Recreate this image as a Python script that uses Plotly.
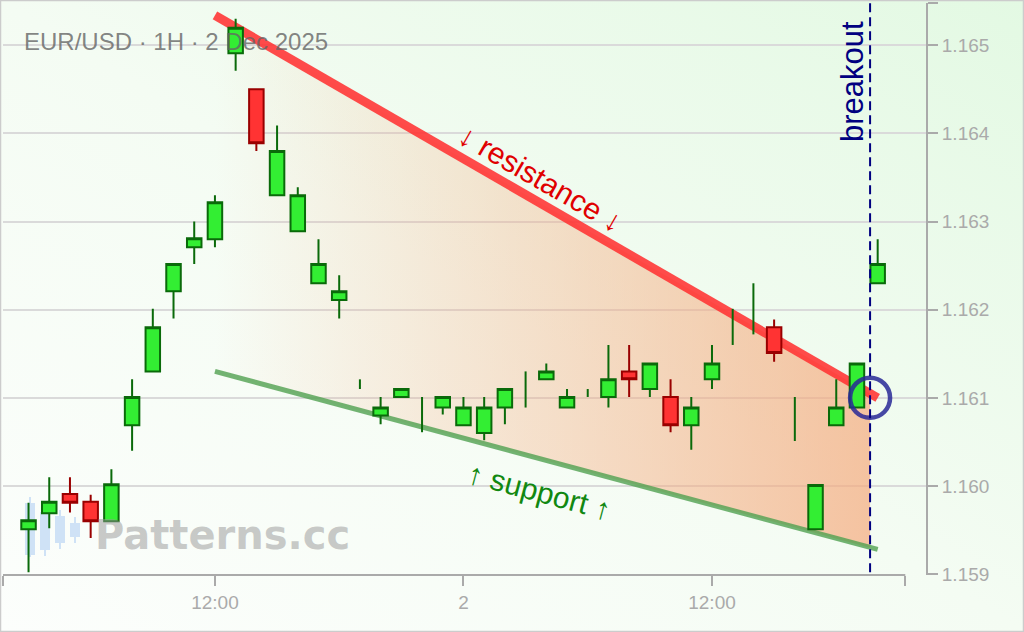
import base64
import pandas as pd
import plotly.graph_objects as go

# hourly candles, 1 Dec 03:00 -> 2 Dec 20:00
times = pd.date_range('2025-12-01 03:00', periods=42, freq='h')
open_ = [1.15951, 1.15969, 1.15991, 1.15982, 1.15960, 1.16069, 1.16130, 1.16221, 1.16271, 1.16280,
         1.16491, 1.16450, 1.16330, 1.16289, 1.16230, 1.16211, 1.16115, 1.16080, 1.16101, 1.16100,
         1.16089, 1.16069, 1.16060, 1.16089, 1.16100, 1.16121, 1.16089, 1.16105, 1.16101, 1.16130,
         1.16110, 1.16101, 1.16069, 1.16121, 1.16180, 1.16200, 1.16180, 1.16080, 1.15951, 1.16069,
         1.16089, 1.16230]
high = [1.15981, 1.16010, 1.16010, 1.15990, 1.16019, 1.16121, 1.16201, 1.16252, 1.16300, 1.16330,
        1.16530, 1.16450, 1.16409, 1.16339, 1.16280, 1.16239, 1.16121, 1.16101, 1.16110, 1.16101,
        1.16101, 1.16101, 1.16101, 1.16110, 1.16130, 1.16139, 1.16110, 1.16110, 1.16160, 1.16160,
        1.16139, 1.16121, 1.16101, 1.16160, 1.16201, 1.16230, 1.16189, 1.16101, 1.16001, 1.16121,
        1.16139, 1.16280]
low = [1.15902, 1.15952, 1.15970, 1.15941, 1.15959, 1.16040, 1.16130, 1.16190, 1.16252, 1.16271,
       1.16471, 1.16380, 1.16330, 1.16289, 1.16230, 1.16190, 1.16110, 1.16070, 1.16101, 1.16061,
       1.16081, 1.16069, 1.16052, 1.16070, 1.16089, 1.16121, 1.16089, 1.16101, 1.16089, 1.16101,
       1.16101, 1.16061, 1.16041, 1.16110, 1.16160, 1.16172, 1.16141, 1.16051, 1.15951, 1.16069,
       1.16089, 1.16230]
close = [1.15961, 1.15982, 1.15981, 1.15960, 1.16002, 1.16101, 1.16180, 1.16252, 1.16281, 1.16322,
         1.16520, 1.16389, 1.16380, 1.16330, 1.16252, 1.16221, 1.16115, 1.16089, 1.16110, 1.16100,
         1.16101, 1.16089, 1.16089, 1.16110, 1.16100, 1.16130, 1.16101, 1.16105, 1.16121, 1.16121,
         1.16139, 1.16069, 1.16089, 1.16139, 1.16180, 1.16200, 1.16151, 1.16080, 1.16001, 1.16089,
         1.16139, 1.16252]

# pattern lines
line_x = ['2025-12-01 12:00', '2025-12-02 20:00']
resistance_y = [1.16534, 1.16100]
support_y = [1.16130, 1.15928]
breakout_x = '2025-12-02 19:38'
breakout_y = 1.16100
fill_x = ['2025-12-01 12:00', breakout_x, breakout_x, '2025-12-01 12:00']
fill_y = [1.16534, 1.16105, 1.15930, 1.16130]

x_range = ['2025-12-01 01:46', '2025-12-02 22:20']
x_line_end = '2025-12-02 21:20'
y_range = [1.15899, 1.16548]
y_ticks = [1.159, 1.160, 1.161, 1.162, 1.163, 1.164, 1.165]
x_ticks = ['2025-12-01 12:00', '2025-12-02 00:00', '2025-12-02 12:00']
x_tick_text = ['12:00', '2', '12:00']

W, H = 1024, 632
ML, MR, MT, MB = 3, 98, 3, 57
PW, PH = W - ML - MR, H - MT - MB

def px(x):
    return (x - ML) / PW

def py(y):
    return (H - MB - y) / PH

doji = [o == c for o, c in zip(open_, close)]
body = [not d for d in doji]

def pick(arr, mask):
    return [a for a, m in zip(arr, mask) if m]

fig = go.Figure()

# pattern area and lines on the base axes
fig.add_trace(go.Scatter(
    x=fill_x, y=fill_y, mode='lines', fill='toself', line=dict(width=0),
    fillgradient=dict(type='horizontal',
                      colorscale=[[0, 'rgba(245,170,125,0)'], [1, 'rgba(245,170,125,0.7)']]),
    hoverinfo='skip', showlegend=False
))
fig.add_trace(go.Scatter(
    x=line_x, y=support_y, mode='lines',
    line=dict(color='rgba(80,160,80,0.8)', width=5), showlegend=False
))
fig.add_trace(go.Scatter(
    x=line_x, y=resistance_y, mode='lines',
    line=dict(color='rgba(255,50,50,0.88)', width=9), showlegend=False
))
# candles on an overlay so they sit above the lines
fig.add_trace(go.Candlestick(
    x=pick(times, body), open=pick(open_, body), high=pick(high, body),
    low=pick(low, body), close=pick(close, body),
    increasing=dict(fillcolor='#33ee33', line=dict(color='#0a6a0a', width=2)),
    decreasing=dict(fillcolor='#ff3333', line=dict(color='#990000', width=2)),
    xaxis='x2', yaxis='y2', showlegend=False
))
fig.add_trace(go.Ohlc(
    x=pick(times, doji), open=pick(open_, doji), high=pick(high, doji),
    low=pick(low, doji), close=pick(close, doji), tickwidth=0,
    increasing=dict(line=dict(color='#0a6a0a', width=2)),
    decreasing=dict(line=dict(color='#0a6a0a', width=2)),
    xaxis='x2', yaxis='y2', showlegend=False
))
fig.add_trace(go.Scatter(
    x=[breakout_x], y=[breakout_y], mode='markers',
    marker=dict(symbol='circle-open', size=40, color='rgba(40,40,150,0.85)',
                line=dict(width=4.5, color='rgba(40,40,150,0.85)')),
    xaxis='x2', yaxis='y2', showlegend=False
))

# background gradient
svg = ('<svg xmlns="http://www.w3.org/2000/svg" width="100" height="100" preserveAspectRatio="none">'
       '<defs><linearGradient id="g" x1="0" y1="1" x2="1" y2="0">'
       '<stop offset="0" stop-color="#fcfefc"/><stop offset="0.5" stop-color="#f4fcf3"/>'
       '<stop offset="1" stop-color="#e3f9e3"/></linearGradient></defs>'
       '<rect width="100" height="100" fill="url(#g)"/></svg>')
bg = 'data:image/svg+xml;base64,' + base64.b64encode(svg.encode()).decode()

shapes = [
    dict(type='line', xref='x', yref='paper', x0=x_range[0], x1=x_line_end, y0=0, y1=0,
         line=dict(color='#aaaaaa', width=2)),
    dict(type='line', xref='x', yref='paper', x0=breakout_x, x1=breakout_x, y0=0.005, y1=1.01,
         line=dict(color='#000080', width=2, dash='9px,5px'), layer='above'),
    dict(type='rect', xref='paper', yref='paper', x0=px(0.5), x1=px(W - 0.5), y0=py(H - 0.5), y1=py(0.5),
         line=dict(color='#cccccc', width=1.5)),
]
# watermark logo candles
for cx, top, bot, wt, wb in [(30, 503, 555, 497, 557), (45, 512, 550, 508, 556),
                             (60, 516, 543, 510, 549), (75, 523, 537, 517, 543)]:
    shapes.append(dict(type='line', xref='paper', yref='paper', x0=px(cx), x1=px(cx),
                       y0=py(wb), y1=py(wt), line=dict(color='#cfe2f6', width=2), layer='below'))
    shapes.append(dict(type='rect', xref='paper', yref='paper', x0=px(cx - 5), x1=px(cx + 5),
                       y0=py(bot), y1=py(top), fillcolor='#cfe2f6', line=dict(width=0), layer='below'))

annotations = [
    dict(text='EUR/USD · 1H · 2 Dec 2025', xref='paper', yref='paper', x=px(22), y=py(41),
         xanchor='left', yanchor='middle', showarrow=False,
         font=dict(family='Liberation Sans', size=24, color='rgba(100,100,100,0.8)')),
    dict(text='Patterns.cc', xref='paper', yref='paper', x=px(222), y=py(535),
         xanchor='center', yanchor='middle', showarrow=False,
         font=dict(family='DejaVu Sans', size=40, color='rgba(150,150,150,0.5)', weight='bold')),
    dict(text='breakout', xref='x', yref='paper', x=breakout_x, y=py(82), xshift=-18,
         xanchor='center', yanchor='middle', textangle=-90, showarrow=False,
         font=dict(family='Liberation Sans', size=31, color='#000080')),
    dict(text='↓ resistance ↓', x='2025-12-02 03:44', y=1.16349, textangle=30, showarrow=False,
         font=dict(family='Liberation Sans', size=30, color='#e00000')),
    dict(text='↑ support ↑', x='2025-12-02 03:41', y=1.15994, textangle=15, showarrow=False,
         font=dict(family='Liberation Sans', size=30, color='#118811')),
]

tickfont = dict(family='Liberation Sans', size=19, color='#aaaaaa')
fig.update_layout(
    width=W, height=H,
    margin=dict(l=ML, r=MR, t=MT, b=MB),
    paper_bgcolor='#f0fcf0',
    plot_bgcolor='rgba(0,0,0,0)',
    boxgap=0.3, boxgroupgap=0,
    images=[dict(source=bg, xref='paper', yref='paper', x=px(0), y=py(0),
                 sizex=W / PW, sizey=H / PH, sizing='stretch', layer='below')],
    xaxis=dict(
        type='date', range=x_range, rangeslider=dict(visible=False),
        showgrid=False, zeroline=False, showline=False,
        tickvals=[x_range[0]] + x_ticks + [x_line_end],
        ticktext=[''] + x_tick_text + [''],
        ticks='outside', ticklen=10, tickwidth=2, tickcolor='#aaaaaa', tickfont=tickfont
    ),
    yaxis=dict(
        range=y_range, side='right', showline=True, linecolor='#aaaaaa', linewidth=2,
        tickvals=y_ticks + [y_range[1]],
        ticktext=['%.3f' % v for v in y_ticks] + [''],
        ticks='outside', ticklen=10, tickwidth=2, tickcolor='#aaaaaa',
        showgrid=True, gridcolor='#dadada', gridwidth=1.5, zeroline=False, tickfont=tickfont
    ),
    xaxis2=dict(type='date', range=x_range, overlaying='x', visible=False,
                rangeslider=dict(visible=False)),
    yaxis2=dict(range=y_range, overlaying='y', visible=False),
    shapes=shapes,
    annotations=annotations,
    hovermode=False,
)

fig.write_html('out.html', config={'displayModeBar': False},
               post_script="document.body.style.margin='0';")
